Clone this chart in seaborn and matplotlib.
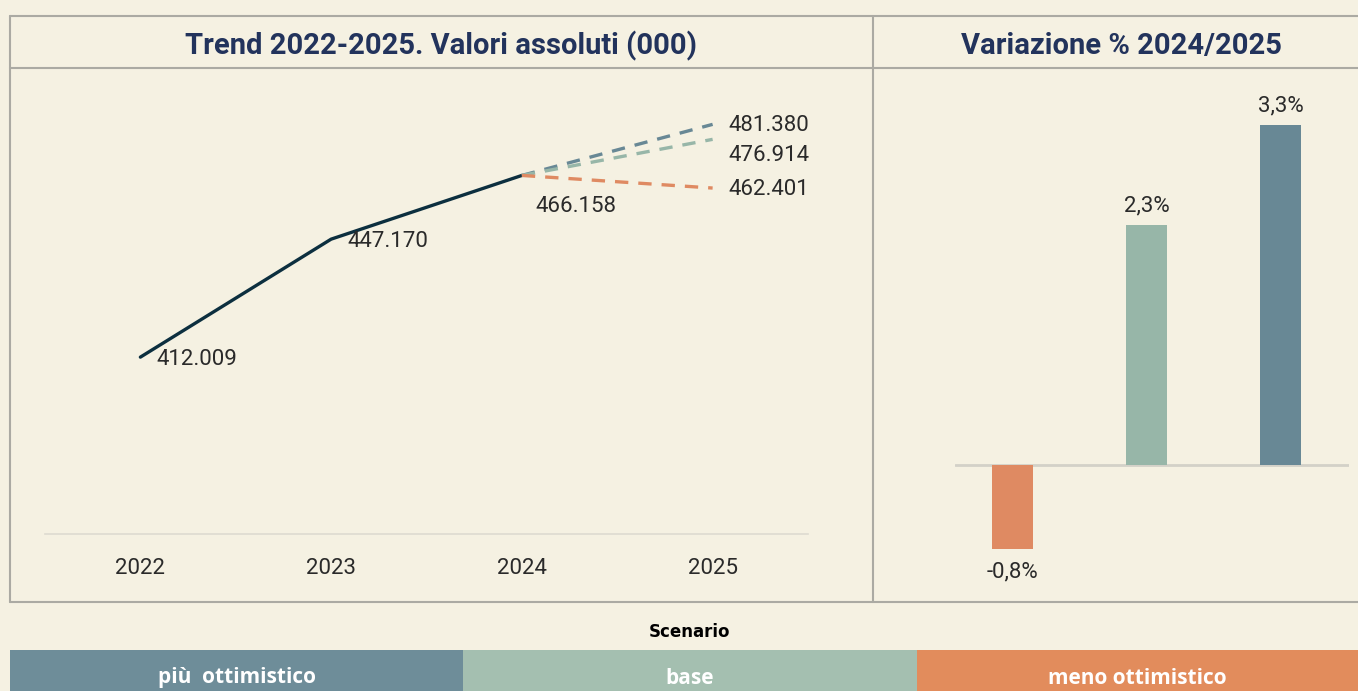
import matplotlib
matplotlib.use("Agg")
import matplotlib.pyplot as plt
import seaborn as sns
import pandas as pd
from matplotlib.lines import Line2D
from matplotlib.patches import Rectangle

# dati
anni = [2022, 2023, 2024]
valori = [412.009, 447.170, 466.158]
scenari = ["più ottimistico", "base", "meno ottimistico"]
valori_2025 = [481.380, 476.914, 462.401]
variazioni = [3.27, 2.31, -0.81]  # % 2024/2025 per scenario
anni_tick = ["2022", "2023", "2024", "2025"]

colori = {"più ottimistico": "#688895", "base": "#97B6A8", "meno ottimistico": "#DF8A62"}
legenda_colori = {"più ottimistico": "#6E8D99", "base": "#A4BFB0", "meno ottimistico": "#E28C5C"}
BG = "#F5F1E2"
NAVY = "#22335C"
FRAME = "#ABAAA3"
TXT = "#2A2A2A"

sns.set_theme(style="white")
plt.rcParams["font.family"] = ["Roboto", "DejaVu Sans"]

W, H = 1358, 691
fig = plt.figure(figsize=(W / 100, H / 100), dpi=100, facecolor=BG)


def fx(px):
    return px / W


def fy(py):
    return 1 - py / H


# riquadro
for x0, y0, x1, y1 in [(10, 16, 1358, 16), (10, 68, 1358, 68), (10, 602, 1358, 602),
                       (10, 16, 10, 602), (873, 16, 873, 602)]:
    fig.add_artist(Line2D([fx(x0), fx(x1)], [fy(y0), fy(y1)], color=FRAME, lw=1.5))

fig.text(fx(441), fy(46), "Trend 2022-2025. Valori assoluti (000)", ha="center", va="center",
         fontsize=21, fontweight="bold", color=NAVY)
fig.text(fx(1121), fy(46), "Variazione % 2024/2025", ha="center", va="center",
         fontsize=21, fontweight="bold", color=NAVY)

# --- trend ---
ax1 = fig.add_axes([fx(45), fy(534), fx(808 - 45), (534 - 80) / H])
ax1.set_facecolor(BG)
storico = pd.DataFrame({"anno": anni, "valore": valori})
sns.lineplot(data=storico, x="anno", y="valore", ax=ax1, color="#0C2F3F", lw=2.4)
for sc, v in zip(scenari, valori_2025):
    proj = pd.DataFrame({"anno": [anni[-1], 2025], "valore": [valori[-1], v]})
    sns.lineplot(data=proj, x="anno", y="valore", ax=ax1, color=colori[sc], lw=2.4,
                 linestyle=(0, (4, 3)))

offs = [(16, -2), (16, -2), (14, -31)]
for a, v, o in zip(anni, valori, offs):
    ax1.annotate(f"{v:.3f}", (a, v), xytext=o, textcoords="offset pixels",
                 ha="left", va="center", fontsize=16, color=TXT)
offs25 = [(16, -1), (16, -16), (16, -1)]
for v, o in zip(valori_2025, offs25):
    ax1.annotate(f"{v:.3f}", (2025, v), xytext=o, textcoords="offset pixels",
                 ha="left", va="center", fontsize=16, color=TXT)

ax1.set_xlim(2021.5, 2025.5)
ax1.set_ylim(359.3, 494.6)
ax1.set_xticks([2022, 2023, 2024, 2025], anni_tick)
ax1.set_yticks([])
ax1.tick_params(axis="x", length=0, pad=17, labelsize=16, labelcolor=TXT)
ax1.set_xlabel("")
ax1.set_ylabel("")
for s in ["top", "left", "right"]:
    ax1.spines[s].set_visible(False)
ax1.spines["bottom"].set_color("#DDDBD0")
ax1.spines["bottom"].set_linewidth(1.2)

# --- variazione ---
ax2 = fig.add_axes([fx(955), fy(590), fx(1349 - 955), (590 - 80) / H])
ax2.set_facecolor(BG)
ordine = scenari[::-1]
var_df = pd.DataFrame({"scenario": scenari, "var": variazioni})
sns.barplot(data=var_df, x="scenario", y="var", order=ordine, hue="scenario",
            palette=colori, width=0.31, ax=ax2, legend=False, saturation=1,
            linewidth=0, edgecolor="none")
ax2.axhline(0, color="#D3D1C8", lw=2, zorder=0)
for i, sc in enumerate(ordine):
    v = variazioni[scenari.index(sc)]
    lab = f"{v:.1f}".replace(".", ",") + "%"
    ax2.annotate(lab, (i, v), xytext=(0, 19 if v > 0 else -23), textcoords="offset pixels",
                 ha="center", va="center", fontsize=16, color=TXT)
ax2.set_xlim(-0.43, 2.51)
ax2.set_ylim(-1.2, 3.7)
ax2.set_xticks([])
ax2.set_yticks([])
ax2.set_xlabel("")
ax2.set_ylabel("")
for s in ax2.spines.values():
    s.set_visible(False)

# --- legenda scenari ---
fig.text(fx(690), fy(632), "Scenario", ha="center", va="center", fontsize=12,
         fontweight="bold", color="black", family=["DejaVu Sans"])
bordi = [10, 463, 917, 1358]
testi = ["più  ottimistico", "base", "meno ottimistico"]
for i, sc in enumerate(scenari):
    fig.add_artist(Rectangle((fx(bordi[i]), 0), fx(bordi[i + 1] - bordi[i]), (691 - 650) / H,
                             color=legenda_colori[sc], lw=0))
    fig.text(fx((bordi[i] + bordi[i + 1]) / 2), fy(678), testi[i], ha="center", va="center",
             fontsize=15, fontweight="bold", color="white", family=["Open Sans", "DejaVu Sans"])

fig.savefig("out.png", dpi=100, facecolor=BG)
